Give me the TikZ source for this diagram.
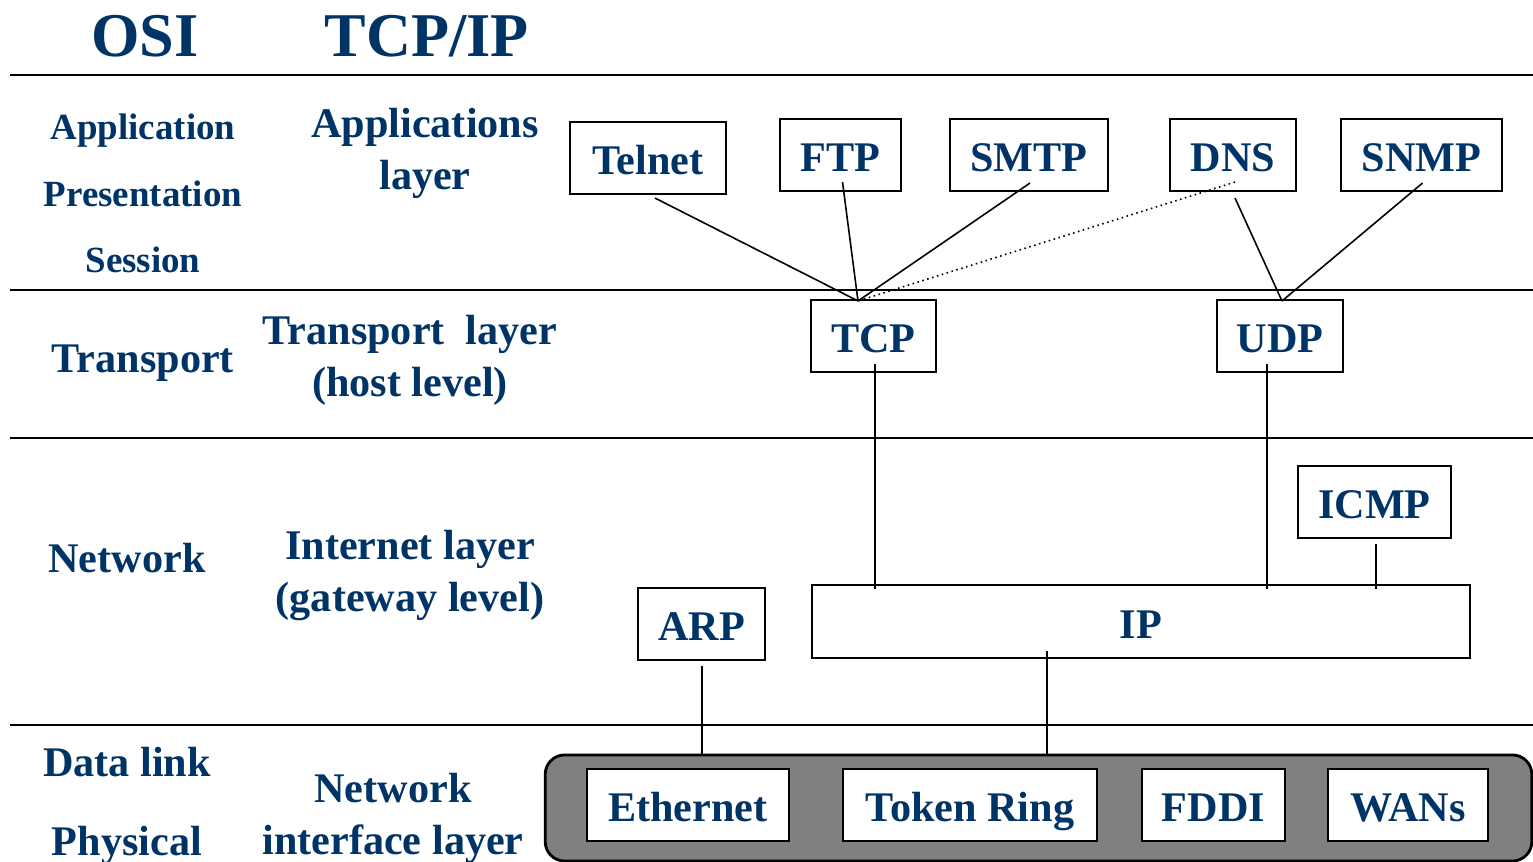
\documentclass[tikz,border=0pt]{standalone}
\usepackage{fontspec}
\setmainfont{Liberation Serif}
\usetikzlibrary{positioning}
\definecolor{osiblue}{RGB}{0,51,102}
\definecolor{langray}{RGB}{128,128,128}
\newcommand{\titlefont}{\fontsize{17.7}{20}\selectfont\bfseries}
\newcommand{\layerfont}{\fontsize{12}{14.8}\selectfont\bfseries}
\newcommand{\osifont}{\fontsize{10.5}{12}\selectfont\bfseries}
\tikzstyle{sep}=[line width=0.75pt]
\tikzstyle{link}=[line width=0.45pt]
\tikzstyle{lbl}=[text=osiblue,align=center,anchor=base,inner sep=0pt]
\tikzstyle{proto}=[draw,line width=0.6pt,fill=white,inner sep=0pt,
                minimum height=0.72cm,text height=10.5pt,text depth=0.9pt,
                text=osiblue,font=\layerfont]

\begin{document}
\begin{tikzpicture}[x=0.01cm,y=-0.01cm]
\useasboundingbox (0,0) rectangle (1533,862);
% headings
\node [lbl,font=\titlefont] (osi) at (145,57) {OSI};
\node [lbl,font=\titlefont] (tcpip) at (427,57) {TCP/IP};
% layer borders
\draw [sep] (10,75) -- (1533,75);
\draw [sep] (10,290) -- (1533,290);
\draw [sep] (10,438) -- (1533,438);
\draw [sep] (10,725) -- (1533,725);
% OSI column
\node [lbl,font=\osifont] (application) at (143,140) {Application};
\node [lbl,font=\osifont] (presentation) at (143,207) {Presentation};
\node [lbl,font=\osifont] (session) at (143,273) {Session};
\node [lbl,font=\layerfont] (transport) at (143,373) {Transport};
\node [lbl,font=\layerfont] (network) at (127,573) {Network};
\node [lbl,font=\layerfont] (datalink) at (127,777) {Data link};
\node [lbl,font=\layerfont] (physical) at (127,856) {Physical};
% TCP/IP column (base = last line)
\node [lbl,font=\layerfont] (applayer) at (425,190) {Applications\\layer};
\node [lbl,font=\layerfont] (translayer) at (410,397) {Transport\ \ layer\\(host level)};
\node [lbl,font=\layerfont] (inetlayer) at (410,612) {Internet layer\\(gateway level)};
\node [lbl,font=\layerfont] (nilayer) at (393,855) {Network\\interface layer};
% protocols
\node [proto,minimum width=1.56cm] (telnet) at (648,158) {Telnet};
\node [proto,minimum width=1.21cm] (ftp) at (840.5,155) {FTP};
\node [proto,minimum width=1.58cm] (smtp) at (1029,155) {SMTP};
\node [proto,minimum width=1.26cm] (dns) at (1233,155) {DNS};
\node [proto,minimum width=1.61cm] (snmp) at (1421.5,155) {SNMP};
\node [proto,minimum width=1.25cm] (tcp) at (873.5,336) {TCP};
\node [proto,minimum width=1.26cm] (udp) at (1280,336) {UDP};
\node [proto,minimum width=1.53cm] (icmp) at (1374.5,502) {ICMP};
\node [proto,minimum width=1.27cm] (arp) at (701.5,624) {ARP};
\node [proto,minimum width=6.58cm,minimum height=0.73cm] (ip) at (1141,621.5) {IP};
\node [draw,fill=langray,line width=0.8pt,rounded corners=5.5pt,inner sep=0pt,
       minimum width=9.86cm,minimum height=1.06cm] (lan) at (1038.5,808) {};
\node [proto,minimum width=2.02cm] (ethernet) at (688,805) {Ethernet};
\node [proto,minimum width=2.54cm] (tokenring) at (970,805) {Token Ring};
\node [proto,minimum width=1.43cm] (fddi) at (1213.5,805) {FDDI};
\node [proto,minimum width=1.60cm] (wans) at (1408,805) {WANs};
% connectors
\coordinate (tcpin) at (858,301);
\coordinate (udpin) at (1282,301);
\draw [link] (telnet.south) ++(7,3) -- (tcpin);
\draw [link] (ftp.south) ++(2,-10) -- (tcpin);
\draw [link] (smtp.south) ++(1,-9) -- (tcpin);
\draw [link,densely dotted] (dns.south) ++(2,-10) -- (tcpin);
\draw [link] (dns.south) ++(2,6) -- (udpin);
\draw [link] (snmp.south) ++(1,-9) -- (udpin);
\draw [link,shorten >=-1.4pt] (tcp.south) ++(1.5,-9) coordinate (tcpdown) -- (tcpdown |- ip.north);
\draw [link,shorten >=-1.4pt] (udp.south) ++(-13,-9) coordinate (udpdown) -- (udpdown |- ip.north);
\draw [link,shorten >=-1.4pt] (icmp.south) ++(1.5,5) coordinate (icmpdown) -- (icmpdown |- ip.north);
\draw [link] (arp.south) ++(0.5,5) coordinate (arpdown) -- (arpdown |- lan.north);
\draw [link] (ip.south) ++(-94,-8) coordinate (ipdown) -- (ipdown |- lan.north);
\end{tikzpicture}
\end{document}
